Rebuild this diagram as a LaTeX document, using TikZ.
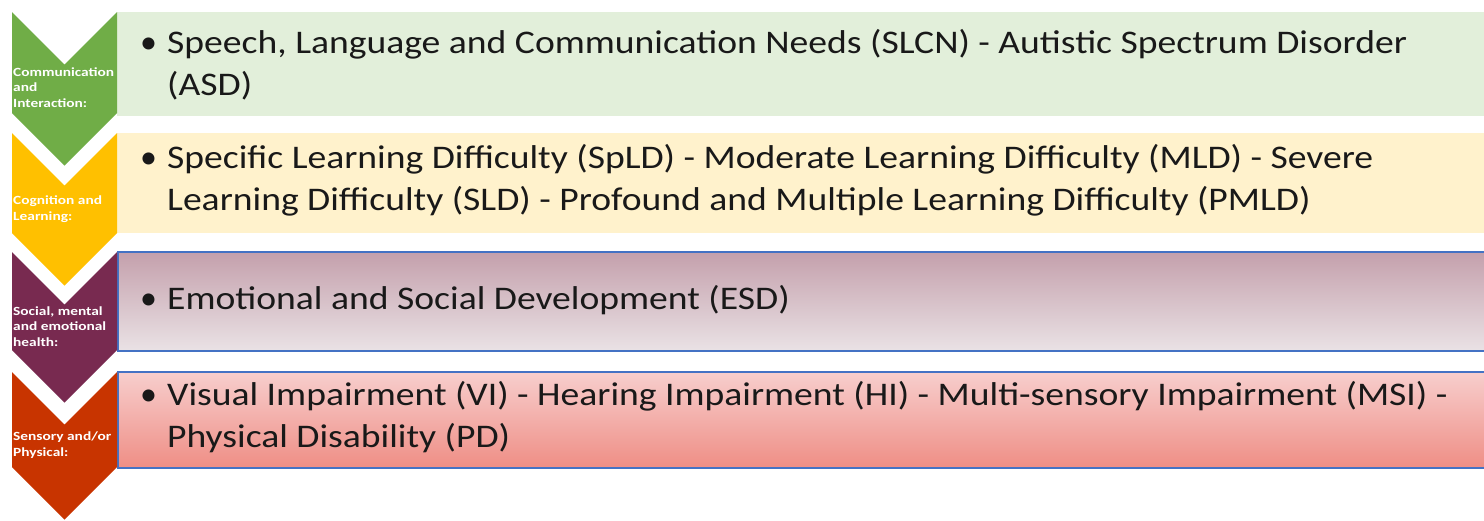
\documentclass[tikz,border=0pt]{standalone}
\usepackage{fontspec}
\setmainfont{Carlito}
\newfontfamily\itemface[FakeStretch=1.14]{Carlito}
\newfontfamily\tagface[FakeStretch=1.23]{Carlito}
\definecolor{grnA}{RGB}{112,173,71}
\definecolor{grnB}{RGB}{226,239,218}
\definecolor{ylwA}{RGB}{255,192,0}
\definecolor{ylwB}{RGB}{255,242,204}
\definecolor{plmA}{RGB}{120,42,80}
\definecolor{plmTop}{RGB}{196,160,172}
\definecolor{plmBot}{RGB}{234,226,229}
\definecolor{redA}{RGB}{200,52,0}
\definecolor{redTop}{RGB}{247,206,205}
\definecolor{redBot}{RGB}{239,142,133}
\definecolor{rimblue}{RGB}{68,114,196}
\definecolor{ink}{RGB}{25,25,25}
\begin{document}
\begin{tikzpicture}[x=1pt,y=-1pt,
  % multi-line nodes: anchor sits on the baseline of the last line
  item/.style={anchor=base west, inner sep=0pt, align=left,
    font=\itemface\fontsize{33}{42}\selectfont, text=ink},
  dot/.style={anchor=base west, inner sep=0pt,
    font=\fontsize{34}{42}\selectfont, text=ink},
  tag/.style={anchor=base west, inner sep=0pt, align=left, text=white,
    font=\tagface\bfseries\fontsize{12.5}{15.5}\selectfont},
  rim/.style={draw=rimblue, line width=1.6pt}]
\useasboundingbox (0,0) rectangle (1484,520);
\fill[white] (0,0) rectangle (1484,520);

% chevron: top edge y=#1, side bottom y=#2
\def\chevron#1#2#3{%
  \fill[#3] (12,#1) -- (64.5,#1+52.5) -- (117,#1) -- (117,#2)
    -- (64.5,#2+52.5) -- (12,#2) -- cycle;}

% row 1: communication and interaction
\fill[grnB] (117,12) rectangle (1484,116);
\chevron{12}{113}{grnA}
% row 2: cognition and learning
\fill[ylwB] (117,133) rectangle (1484,233);
\chevron{133}{233}{ylwA}
% row 3: social, mental and emotional health
\shade[top color=plmTop, bottom color=plmBot] (118,252) rectangle (1484,351);
\draw[rim] (1484,252) -- (118,252) -- (118,351) -- (1484,351);
\chevron{252}{350}{plmA}
% row 4: sensory and/or physical
\shade[top color=redTop, bottom color=redBot] (118,372) rectangle (1484,468);
\draw[rim] (1484,372) -- (118,372) -- (118,468) -- (1484,468);
\chevron{372}{467}{redA}

% chevron captions
\node[tag] (t1) at (13,107) {Communication\\and\\Interaction:};
\node[tag] (t2) at (13,220) {Cognition and\\Learning:};
\node[tag] (t3) at (13,346) {Social, mental\\and emotional\\health:};
\node[tag] (t4) at (13,456) {Sensory and/or\\Physical:};

% bulleted entries
\node[dot] (d1) at (140,53) {\textbullet};
\node[item] (i1) at (167,95) {Speech, Language and Communication Needs (SLCN) - Autistic Spectrum Disorder\\(ASD)};
\node[dot] (d2) at (140,168) {\textbullet};
\node[item] (i2) at (167,210) {Specific Learning Difficulty (SpLD) - Moderate Learning Difficulty (MLD) - Severe\\Learning Difficulty (SLD) - Profound and Multiple Learning Difficulty (PMLD)};
\node[dot] (d3) at (140,309) {\textbullet};
\node[item] (i3) at (167,309) {Emotional and Social Development (ESD)};
\node[dot] (d4) at (140,405) {\textbullet};
\node[item] (i4) at (167,447) {Visual Impairment (VI) - Hearing Impairment (HI) - Multi-sensory Impairment (MSI) -\\Physical Disability (PD)};
\end{tikzpicture}
\end{document}
